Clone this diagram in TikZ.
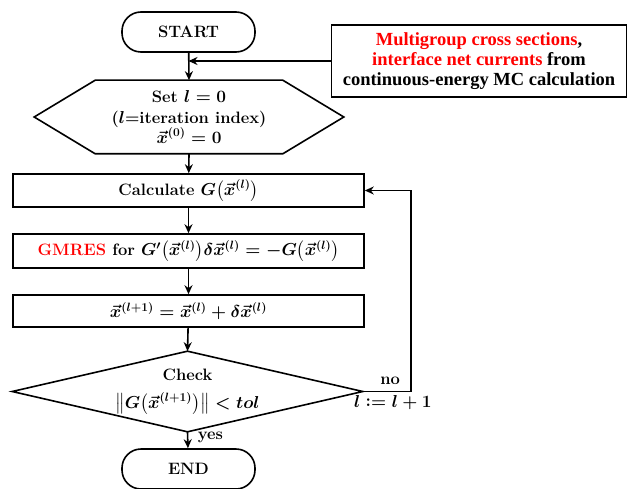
\documentclass[tikz,border=0pt]{standalone}
\usepackage{amsmath}
\usepackage{fontspec}
\newfontfamily\infofont{Liberation Serif}
\usetikzlibrary{arrows.meta,calc}
\begin{document}
\begin{tikzpicture}[x=1pt,y=-1pt,
  line width=1.6pt,
  every node/.style={font=\fontsize{16.5}{20}\selectfont\bfseries\boldmath, align=center},
  terminal/.style={draw, rounded corners=19pt, minimum width=133pt, minimum height=40pt, inner sep=0pt},
  procbox/.style={draw, minimum width=351pt, minimum height=33pt, inner sep=0pt},
  ghost/.style={inner sep=0pt},
  flow/.style={-{Stealth[length=9pt,width=8pt]}},
  side/.style={font=\fontsize{16.5}{20}\selectfont\bfseries\boldmath}
]
\useasboundingbox (0,0) rectangle (628,489);

% terminals
\node[terminal] (start) at (188.5,32) {START};
\node[terminal] (stop) at (188.5,469) {END};

% input data box
\node[draw, minimum width=295pt, minimum height=72pt, inner sep=0pt,
      font=\fontsize{18.5}{20}\selectfont\infofont\bfseries] (info) at (479,61)
  {\textcolor{red}{Multigroup cross sections}, \\
   \textcolor{red}{interface net currents} from \\
   continuous-energy MC calculation};

% initialisation (hexagon)
\node[ghost, minimum width=308pt, minimum height=72pt] (init) at (189,117)
  {Set $l=0$\\ ($l$=iteration index)\\ $\vec{x}^{(0)}=0$};
\draw (init.west) -- ([xshift=61pt]init.north west) -- ([xshift=-61pt]init.north east)
  -- (init.east) -- ([xshift=-61pt]init.south east) -- ([xshift=61pt]init.south west) -- cycle;

% Newton steps
\node[procbox] (calc) at (188.5,190.5) {Calculate $G\big(\vec{x}^{(l)}\big)$};
\node[procbox, minimum height=34pt] (gmres) at (188.5,251)
  {\textcolor{red}{GMRES} for $G'\big(\vec{x}^{(l)}\big)\delta\vec{x}^{(l)}=-G\big(\vec{x}^{(l)}\big)$};
\node[procbox, minimum height=32pt] (upd) at (188.5,311)
  {$\vec{x}^{(l+1)}=\vec{x}^{(l)}+\delta\vec{x}^{(l)}$};

% convergence check (diamond)
\node[ghost, minimum width=349pt, minimum height=79pt] (check) at (187.5,391.5)
  {\raisebox{2pt}{Check}\\[6pt] $\big\lVert G\big(\vec{x}^{(l+1)}\big)\big\rVert < tol$};
\draw (check.west) -- (check.north) -- (check.east) -- (check.south) -- cycle;

% connectors
\coordinate (join) at (start.south |- info.west);
\draw[flow] (start) -- (init.north);
\draw[flow] (info.west) -- (join);
\draw[flow] (init.south) -- (calc);
\draw[flow] (calc) -- (gmres);
\draw[flow] (gmres) -- (upd);
\draw[flow] (upd) -- (check.north);
\draw[flow] (check.south) -- node[side, right, pos=0.35, xshift=6pt] (yes) {yes} (stop);
\coordinate (turn) at ($(check.east)+(48,0)$);
\draw[flow] (check.east) -- (turn) |- (calc.east);
\node[side, above left, inner sep=2pt] (no) at ($(turn)+(-8,-4)$) {no};
\node[side, below, inner sep=2pt] (incr) at ($(turn)+(-18,1)$) {$l\mathrel{\mathop:}=l+1$};
\end{tikzpicture}
\end{document}
